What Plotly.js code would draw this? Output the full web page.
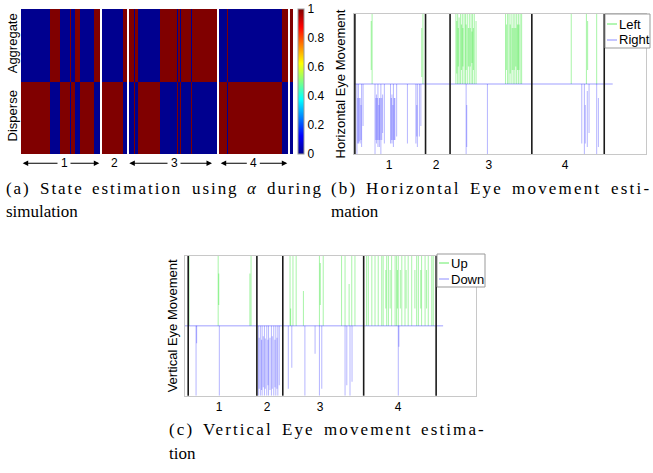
<!DOCTYPE html>
<html><head><meta charset="utf-8">
<script src="https://cdn.plot.ly/plotly-3.0.1.min.js"></script>
<style>html,body{margin:0;padding:0;background:#fff}#chart{width:653px;height:473px}</style>
</head><body><div id="chart"></div>
<script>
// ===== Panel (a): state estimation using alpha (two-row heatmap) =====
const stateRows = ['Disperse', 'Aggregate'];
const segStart  = [21.0, 50.3, 59.8, 69.5, 71.0, 75.3, 80.0, 93.5, 101.5, 123.3, 128.5, 134.3, 135.3, 138.3, 160.0, 176.7, 177.7, 179.5, 180.5, 191.0, 192.3, 219.2, 226.7, 227.7, 281.8, 289.5];
const segEnd    = [50.3, 59.8, 69.5, 71.0, 75.3, 80.0, 93.5, 99.5, 123.3, 126.7, 134.3, 135.3, 138.3, 160.0, 176.7, 177.7, 179.5, 180.5, 191.0, 192.3, 216.8, 226.7, 227.7, 281.8, 287.7, 293.0];
const aggregate = [0, 1, 0, 1, 0, 1, 0, 1, 0, 1, 1, 0, 1, 0, 1, 0, 1, 0, 1, 0, 1, 0, 1, 0, 1, 1];
const disperse  = [1, 0, 1, 0, 1, 0, 1, 0, 1, 0, 0, 1, 0, 1, 0, 1, 0, 1, 0, 1, 0, 1, 0, 1, 0, 0];
const colorbarTicks = [0, 0.2, 0.4, 0.6, 0.8, 1];
const sectionLabels = ['1', '2', '3', '4'];
const sectionLabelXA = [64, 114.3, 174, 253.3];
const sectionArmLeftA = [22.7, null, 129.3, 220.7];
const sectionArmRightA = [99.3, null, 212, 287.3];

// ===== Panel (b): horizontal eye movement =====
const leftT  = [59, 62, 232, 236, 349, 352, 355, 357, 360, 365, 368, 371, 373, 377, 382, 384, 388, 392, 395, 398, 401, 404, 406, 409, 412, 418, 519, 522, 526, 531, 535, 538, 542, 545, 548, 551, 554, 557, 560, 563, 565, 569, 574, 744, 796, 800, 831];
const leftLo = [0.2, 0, 0.1, 0, 0, 0.15, 0, 0.25, 0, 0, 0.2, 0, 0.25, 0, 0, 0.2, 0, 0.25, 0, 0.25, 0, 0.3, 0, 0.2, 0, 0, 0, 0.2, 0, 0, 0.15, 0, 0.2, 0, 0.2, 0, 0.25, 0, 0.2, 0, 0.2, 0, 0, 0, 0, 0.2, 0];
const leftHi = [0.9, 1, 0.8, 1, 1, 0.9, 1, 0.8, 0.95, 1, 0.85, 1, 0.8, 1, 1, 0.85, 1, 0.8, 1, 0.8, 1, 0.75, 1, 0.8, 1, 0.9, 1, 0.85, 1, 1, 0.85, 1, 0.8, 1, 0.8, 1, 0.8, 1, 0.85, 1, 0.85, 1, 1, 1, 1, 0.9, 1];
const rightT   = [10, 13, 15, 18, 21, 24, 26, 31, 72, 75, 77, 80, 82, 85, 87, 89, 92, 95, 98, 104, 125, 128, 130, 133, 135, 138, 140, 146, 183, 212, 215, 217, 224, 229, 384, 386, 457, 780, 789, 792, 799, 805, 831, 837];
const rightTop = [0, -0.2, 0, -0.2, -0.2, -0.3, 0, 0, 0, -0.2, -0.15, -0.2, 0, -0.3, -0.2, -0.2, 0, -0.2, -0.15, 0, 0, -0.2, -0.15, -0.3, 0, -0.2, -0.2, 0, 0, 0, -0.3, 0, 0, 0, 0, -0.3, 0, 0, 0, -0.3, -0.1, 0, 0, -0.2];
const rightBot = [-1, -0.85, -0.85, -0.82, -0.85, -0.8, -0.9, -0.6, -1, -0.8, -0.85, -0.8, -0.9, -0.8, -0.9, -0.8, -1, -0.8, -0.7, -0.85, -0.85, -0.8, -0.85, -0.8, -0.9, -0.8, -0.8, -0.75, -0.85, -0.85, -0.75, -0.9, -0.75, -0.6, -1, -0.9, -1, -0.85, -1, -0.85, -0.9, -0.7, -1, -0.9];
const boundariesB = [3, 245, 329, 609, 857];
const signalEndB = 886;
const tickPosB = [120, 281, 462, 723];

// ===== Panel (c): vertical eye movement =====
const upT  = [14, 114, 116, 223, 227, 361, 363, 371, 382, 407, 462, 465, 475, 538, 550, 564, 573, 584, 624, 630, 642, 653, 664, 676, 681, 690, 693, 699, 705, 710, 722, 727, 730, 733, 740, 745, 756, 760, 767, 779, 790, 796, 802, 810, 813, 825, 830, 836, 848, 853];
const upLo = [0, 0, 0.3, 0, 0, 0, 0, 0, 0, 0, 0, 0.3, 0, 0, 0, 0, 0, 0, 0, 0, 0, 0, 0, 0, 0, 0.25, 0, 0, 0.25, 0, 0, 0, 0.25, 0, 0.25, 0, 0, 0.25, 0, 0, 0.25, 0, 0, 0.25, 0, 0, 0.25, 0, 0, 0];
const upHi = [1, 1, 0.75, 0.75, 1, 1, 0.25, 1, 1, 0.5, 1, 0.9, 1, 1, 1, 0.6, 1, 1, 1, 1, 1, 1, 1, 1, 1, 0.8, 1, 1, 0.8, 1, 1, 1, 0.8, 1, 0.8, 1, 1, 0.8, 1, 1, 0.8, 1, 1, 0.8, 1, 1, 0.8, 1, 1, 1];
const downT   = [38, 40, 118, 252, 255, 259, 263, 265, 269, 273, 276, 281, 285, 287, 292, 297, 300, 305, 309, 312, 316, 319, 324, 355, 367, 412, 447, 462, 470, 550, 556, 567, 574, 733, 735];
const downTop = [0, 0, 0, 0, -0.17, 0, -0.2, 0, -0.15, 0, -0.18, 0, -0.2, 0, -0.17, 0, -0.15, 0, -0.2, 0, -0.17, 0, 0, 0, 0, 0, 0, 0, 0, 0, 0, 0, 0, 0, 0];
const downBot = [-1, -0.25, -1, -1, -0.9, -1, -0.92, -1, -0.88, -1, -0.9, -1, -0.85, -1, -0.92, -1, -0.9, -1, -0.88, -1, -0.9, -1, -0.85, -0.9, -0.6, -1, -0.4, -1, -0.9, -1, -0.85, -1, -0.8, -1, -0.3];
const boundariesC = [11, 247, 336, 614, 863];
const signalEndC = 887;
const tickPosC = [117, 282, 464, 732];

// ---------- helpers ----------
const W = 653, H = 473;
const X = px => px / W;
const Y = py => 1 - py / H;
const SANS = 'Liberation Sans, Arial, sans-serif';
const SERIF = 'Liberation Serif, Times New Roman, serif';
const GREEN = 'rgba(0,225,0,0.33)';
const BLUE = 'rgba(0,0,255,0.28)';
const jet = [[0,'#00008F'],[0.125,'#0000FF'],[0.375,'#00FFFF'],[0.625,'#FFFF00'],[0.875,'#FF0000'],[1,'#800000']];

// heatmap columns built from the segments (gaps become empty columns)
const edges = [segStart[0]], zAgg = [], zDis = [];
for (let i = 0; i < segStart.length; i++) {
  if (i > 0 && segStart[i] > segEnd[i - 1] + 0.01) { edges.push(segStart[i]); zAgg.push(null); zDis.push(null); }
  edges.push(segEnd[i]); zAgg.push(aggregate[i]); zDis.push(disperse[i]);
}

const traces = [];
traces.push({
  type: 'heatmap', x: edges, y: [0, 1], z: [zDis, zAgg], zmin: 0, zmax: 1, zsmooth: false,
  colorscale: jet, xaxis: 'x', yaxis: 'y', hoverinfo: 'skip',
  colorbar: { x: X(297.7), xanchor: 'left', y: Y(81.5), yanchor: 'middle', len: 145, lenmode: 'pixels',
    thickness: 6, xpad: 0, ypad: 0, outlinecolor: '#999', outlinewidth: 1, ticks: '', tickvals: colorbarTicks,
    tickfont: { family: SANS, size: 12, color: '#000' } }
});

function spikes(t, a, b, color, name, xa, ya) {
  return { type: 'bar', name: name, x: t, base: b, y: a.map((v, i) => v - b[i]), width: 3.6,
    marker: { color: color, line: { width: 0 } }, xaxis: xa, yaxis: ya, showlegend: false, hoverinfo: 'skip' };
}
traces.push(spikes(leftT, leftHi, leftLo, GREEN, 'Left', 'x2', 'y2'));
traces.push(spikes(rightT, rightTop, rightBot, BLUE, 'Right', 'x2', 'y2'));
traces.push({ type: 'scatter', mode: 'lines', x: [0, signalEndB], y: [0, 0], line: { color: 'rgba(0,0,255,0.38)', width: 1 }, xaxis: 'x2', yaxis: 'y2', showlegend: false, hoverinfo: 'skip' });
traces.push(spikes(upT, upHi, upLo, GREEN, 'Up', 'x3', 'y3'));
traces.push(spikes(downT, downTop, downBot, BLUE, 'Down', 'x3', 'y3'));
traces.push({ type: 'scatter', mode: 'lines', x: [0, signalEndC], y: [0, 0], line: { color: 'rgba(0,0,255,0.38)', width: 1 }, xaxis: 'x3', yaxis: 'y3', showlegend: false, hoverinfo: 'skip' });

const shapes = [];
boundariesB.forEach(t => shapes.push({ type: 'line', xref: 'x2', yref: 'y2 domain', x0: t, x1: t, y0: 0, y1: 1, line: { color: '#1a1a1a', width: 1.6 } }));
boundariesC.forEach(t => shapes.push({ type: 'line', xref: 'x3', yref: 'y3 domain', x0: t, x1: t, y0: 0, y1: 1, line: { color: '#1a1a1a', width: 1.6 } }));

const annotations = [];
// custom legends
function legendBox(x0, y0, x1, y1, items) {
  shapes.push({ type: 'rect', xref: 'paper', yref: 'paper', x0: X(x0), x1: X(x1), y0: Y(y1), y1: Y(y0), line: { color: '#999', width: 1 }, fillcolor: '#fff' });
  items.forEach(it => {
    shapes.push({ type: 'line', xref: 'paper', yref: 'paper', x0: X(x0 + 2), x1: X(x0 + 12), y0: Y(it.y), y1: Y(it.y), line: { color: it.color, width: 1 } });
    annotations.push({ xref: 'paper', yref: 'paper', x: X(x0 + 12), y: Y(it.y), xanchor: 'left', yanchor: 'middle', showarrow: false, text: it.text, font: { family: SANS, size: 13, color: '#000' } });
  });
}
legendBox(605, 14, 650, 48, [{ y: 24, text: 'Left', color: 'rgba(0,225,0,0.6)' }, { y: 40, text: 'Right', color: 'rgba(0,0,255,0.45)' }]);
legendBox(437, 254, 485, 287, [{ y: 263, text: 'Up', color: 'rgba(0,225,0,0.6)' }, { y: 279, text: 'Down', color: 'rgba(0,0,255,0.45)' }]);

// section labels + arrows below heatmap
const arrowY = Y(163.3);
sectionLabels.forEach((lab, i) => {
  annotations.push({ xref: 'x', yref: 'paper', x: sectionLabelXA[i], y: arrowY, text: lab, showarrow: false, xanchor: 'center', yanchor: 'middle', font: { family: SANS, size: 12, color: '#000' } });
  if (sectionArmLeftA[i] !== null) {
    annotations.push({ xref: 'x', yref: 'paper', x: sectionArmLeftA[i], y: arrowY, axref: 'x', ayref: 'pixel', ax: sectionLabelXA[i] - 5, ay: 0, text: '', showarrow: true, arrowhead: 2, arrowsize: 1, arrowwidth: 1.1, arrowcolor: '#000' });
    annotations.push({ xref: 'x', yref: 'paper', x: sectionArmRightA[i], y: arrowY, axref: 'x', ayref: 'pixel', ax: sectionLabelXA[i] + 5, ay: 0, text: '', showarrow: true, arrowhead: 2, arrowsize: 1, arrowwidth: 1.1, arrowcolor: '#000' });
  }
});

// justified captions (first lines are stretched with letter spacing, as in the original)
const ctx = document.createElement('canvas').getContext('2d');
function wordWidth(w, italic) { ctx.font = (italic ? 'italic ' : '') + '17px "Liberation Serif"'; return ctx.measureText(w).width; }
function captionLine(words, left, right, yc, justify) {
  const plain = words.map(w => w.replace(/<\/?i>/g, ''));
  const ws = plain.map((w, i) => wordWidth(w, /<i>/.test(words[i])));
  const nChars = plain.reduce((a, w) => a + w.length, 0);
  const total = ws.reduce((a, b) => a + b, 0);
  const gapTarget = 9;
  let ls = 0, gap = wordWidth(' ');
  if (justify) {
    ls = Math.max(0, (right - left - total - gapTarget * (words.length - 1)) / nChars);
    gap = (right - left - total - ls * nChars) / (words.length - 1);
  }
  let x = left;
  words.forEach((w, i) => {
    const txt = ls > 0 ? '<span style="letter-spacing:' + ls.toFixed(2) + 'px">' + w + '</span>' : w;
    annotations.push({ xref: 'paper', yref: 'paper', x: X(x), y: Y(yc), xanchor: 'left', yanchor: 'middle', showarrow: false, borderpad: 0, text: txt, font: { family: SERIF, size: 17, color: '#000' } });
    x += ws[i] + ls * plain[i].length + gap;
  });
}
captionLine(['(a)', 'State', 'estimation', 'using', '<i>α</i>', 'during'], 5, 322, 188, true);
captionLine(['simulation'], 5, 322, 212, false);
captionLine(['(b)', 'Horizontal', 'Eye', 'movement', 'esti-'], 330, 650, 188, true);
captionLine(['mation'], 330, 650, 212, false);
captionLine(['(c)', 'Vertical', 'Eye', 'movement', 'estima-'], 168, 485, 429, true);
captionLine(['tion'], 168, 485, 453, false);

const frame = { showline: true, mirror: true, linecolor: '#c8c8c8', linewidth: 1, showgrid: false, zeroline: false };
const layout = {
  width: W, height: H, margin: { l: 0, r: 0, t: 0, b: 0 }, paper_bgcolor: '#fff', plot_bgcolor: '#fff',
  font: { family: SANS, color: '#000' }, showlegend: false, barmode: 'overlay',
  xaxis: { domain: [X(21), X(293)], range: [21, 293], showticklabels: false, ticks: '', showgrid: false, zeroline: false, showline: false },
  yaxis: { domain: [Y(154), Y(9)], range: [-0.5, 1.5], tickvals: [0, 1], ticktext: stateRows, tickangle: -90, ticks: '', showgrid: false, zeroline: false, showline: false, tickfont: { family: SANS, size: 13, color: '#000' } },
  xaxis2: Object.assign({ domain: [X(354), X(646)], range: [0, 1000], tickvals: tickPosB, ticktext: sectionLabels, ticks: '', tickfont: { family: SANS, size: 12, color: '#000' }, anchor: 'y2' }, frame),
  yaxis2: Object.assign({ domain: [Y(154), Y(14)], range: [-1, 1], showticklabels: false, ticks: '', anchor: 'x2', title: { text: 'Horizontal Eye Movement', font: { family: SANS, size: 13, color: '#000' }, standoff: 4 } }, frame),
  xaxis3: Object.assign({ domain: [X(185), X(476)], range: [0, 1000], tickvals: tickPosC, ticktext: sectionLabels, ticks: '', tickfont: { family: SANS, size: 12, color: '#000' }, anchor: 'y3' }, frame),
  yaxis3: Object.assign({ domain: [Y(395.7), Y(256)], range: [-1, 1], showticklabels: false, ticks: '', anchor: 'x3', title: { text: 'Vertical Eye Movement', font: { family: SANS, size: 13, color: '#000' }, standoff: 3 } }, frame),
  shapes: shapes, annotations: annotations
};
Plotly.newPlot('chart', traces, layout, { staticPlot: true, displayModeBar: false });
</script></body></html>
